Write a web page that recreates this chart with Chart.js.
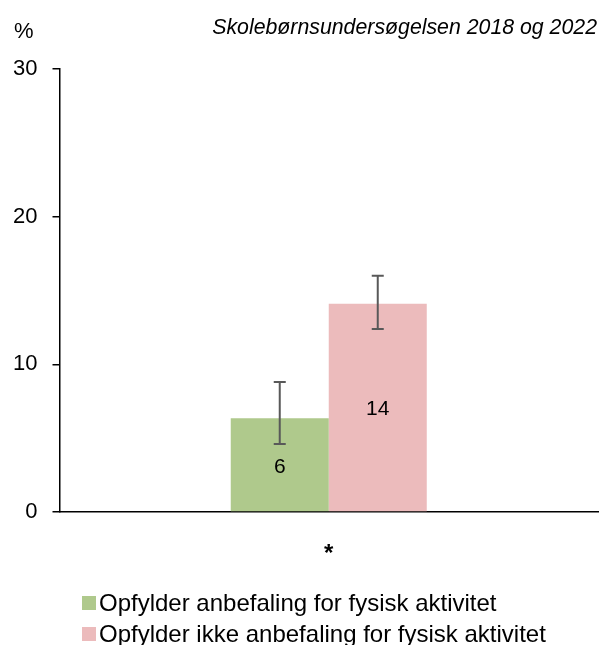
<!DOCTYPE html>
<html>
<head>
<meta charset="utf-8">
<script src="https://cdn.jsdelivr.net/npm/chart.js@4"></script>
<style>
  body { margin: 0; background: #fff; font-family: "Liberation Sans", Arial, sans-serif; }
  #wrap { position: relative; width: 600px; height: 645px; }
  #legend { position: absolute; left: 82px; top: 587px; font-size: 24px; color: #000; }
  .item { display: flex; align-items: center; height: 31px; }
  .box { width: 14px; height: 14px; margin-right: 3px; }
</style>
</head>
<body>
<div id="wrap">
  <canvas id="myChart" width="600" height="645"></canvas>
  <div id="legend"></div>
</div>
<script>
// chart data
var categories = ['*'];
var seriesNames = ['Opfylder anbefaling for fysisk aktivitet', 'Opfylder ikke anbefaling for fysisk aktivitet'];
var seriesColors = ['#AFC98C', '#ECBBBC'];
var values = [[6.35], [14.1]];
var errLow = [[4.6], [12.4]];
var errHigh = [[8.8], [16.0]];
var labels = [['6'], ['14']];
var yTicks = [0, 10, 20, 30];

// error bars and value labels on top of the bars
var barExtras = {
  id: 'barExtras',
  afterDatasetsDraw: function(chart) {
    var ctx = chart.ctx;
    var y = chart.scales.y;
    chart.data.datasets.forEach(function(ds, i) {
      var meta = chart.getDatasetMeta(i);
      meta.data.forEach(function(bar, j) {
        // label in middle of bar
        ctx.save();
        ctx.fillStyle = '#000';
        ctx.font = '21px "Liberation Sans", Arial, sans-serif';
        ctx.textAlign = 'center';
        ctx.textBaseline = 'middle';
        ctx.fillText(labels[i][j], bar.x, (bar.y + bar.base) / 2 + 2);
        // error bar
        var top = y.getPixelForValue(errHigh[i][j]);
        var bot = y.getPixelForValue(errLow[i][j]);
        ctx.strokeStyle = '#595959';
        ctx.lineWidth = 2;
        ctx.beginPath();
        ctx.moveTo(bar.x, top); ctx.lineTo(bar.x, bot);
        ctx.moveTo(bar.x - 6, top); ctx.lineTo(bar.x + 6, top);
        ctx.moveTo(bar.x - 6, bot); ctx.lineTo(bar.x + 6, bot);
        ctx.stroke();
        ctx.restore();
      });
    });
    // % and subtitle
    ctx.save();
    ctx.fillStyle = '#000';
    ctx.textBaseline = 'middle';
    ctx.font = '22px "Liberation Sans", Arial, sans-serif';
    ctx.textAlign = 'left';
    ctx.fillText('%', 14, 32);
    ctx.font = 'italic 21.3px "Liberation Sans", Arial, sans-serif';
    ctx.textAlign = 'right';
    ctx.fillText('Skolebørnsundersøgelsen 2018 og 2022', 597, 28);
    ctx.restore();
  }
};

var datasets = seriesNames.map(function(name, i) {
  return {
    label: name,
    data: values[i],
    backgroundColor: seriesColors[i],
    borderWidth: 0,
    barPercentage: 1,
    categoryPercentage: 0.364
  };
});

var ctx = document.getElementById('myChart').getContext('2d');
var myChart = new Chart(ctx, {
  type: 'bar',
  data: { labels: categories, datasets: datasets },
  options: {
    responsive: false,
    animation: false,
    layout: { padding: { top: 69, right: 2, left: 0, bottom: 0 } },
    plugins: { legend: { display: false }, tooltip: { enabled: false } },
    scales: {
      x: {
        grid: { display: false },
        border: { color: '#000', width: 1.5 },
        ticks: { color: '#000', padding: 20, font: { size: 24, weight: 'bold', family: '"Liberation Sans", Arial, sans-serif' } },
        afterFit: function(s) { s.height = 133; }
      },
      y: {
        min: 0,
        max: 30,
        afterBuildTicks: function(s) { s.ticks = yTicks.map(function(v) { return { value: v }; }); },
        grid: { drawOnChartArea: false, drawTicks: true, tickLength: 7, color: '#000', lineWidth: 1.5 },
        border: { color: '#000', width: 1.5 },
        ticks: { color: '#000', padding: 15, font: { size: 22, family: '"Liberation Sans", Arial, sans-serif' } },
        afterFit: function(s) { s.width = 59.5; }
      }
    }
  },
  plugins: [barExtras]
});

// legend built from the datasets
var legend = document.getElementById('legend');
seriesNames.forEach(function(name, i) {
  var row = document.createElement('div');
  row.className = 'item';
  row.innerHTML = '<span class="box" style="background:' + seriesColors[i] + '"></span><span>' + name + '</span>';
  legend.appendChild(row);
});
</script>
</body>
</html>
